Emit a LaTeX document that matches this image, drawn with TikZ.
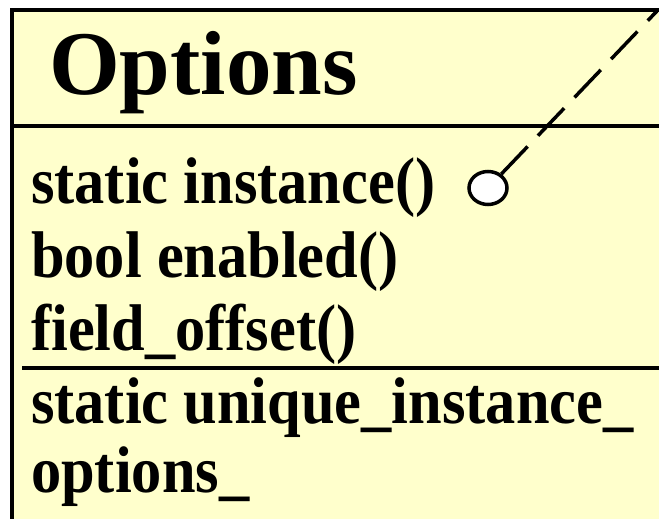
\documentclass[tikz,border=0pt]{standalone}
\usepackage{fontspec}
\setmainfont{Liberation Serif}
\newfontfamily\memberfont{Liberation Serif}[FakeStretch=0.915]
\usepackage{tikz}
\usetikzlibrary{shapes.geometric}
\definecolor{classfill}{HTML}{FFFFCC}

\begin{document}
\begin{tikzpicture}[
  x=1pt, y=-1pt,
  titletext/.style={anchor=base west, inner sep=0pt, font=\fontsize{91}{100}\selectfont\bfseries},
  membertext/.style={anchor=base west, inner sep=0pt, font=\memberfont\fontsize{66}{72}\selectfont\bfseries},
  border/.style={draw=black, line width=3.5pt},
  portcircle/.style={ellipse, draw=black, fill=white, line width=3.5pt, minimum width=38pt, minimum height=33pt, inner sep=0pt},
  realize/.style={draw=black, line width=3.5pt, dash pattern=on 38pt off 15pt}
]
  \useasboundingbox (0,0) rectangle (659,519);
  \clip (0,0) rectangle (659,519);
  % class box
  \fill[classfill] (12,10) rectangle (700,560);
  \draw[border] (12,560) -- (12,10) -- (700,10);
  \draw[border] (12,126) -- (700,126);
  \draw[border] (22,368) -- (700,368);
  % texts
  \node[titletext] (title) at (49,95) {Options};
  \node[membertext] (op1) at (31,203) {static instance()};
  \node[membertext] (op2) at (31,277) {bool enabled()};
  \node[membertext] (op3) at (31,350) {field\_offset()};
  \node[membertext] (at1) at (31,423) {static unique\_instance\_};
  \node[membertext] (at2) at (31,492) {options\_};
  % interface port
  \node[portcircle] (port) at (488,188) {};
  \coordinate (corner) at (657,11);
  \draw[realize] (port) -- (corner);
\end{tikzpicture}
\end{document}
